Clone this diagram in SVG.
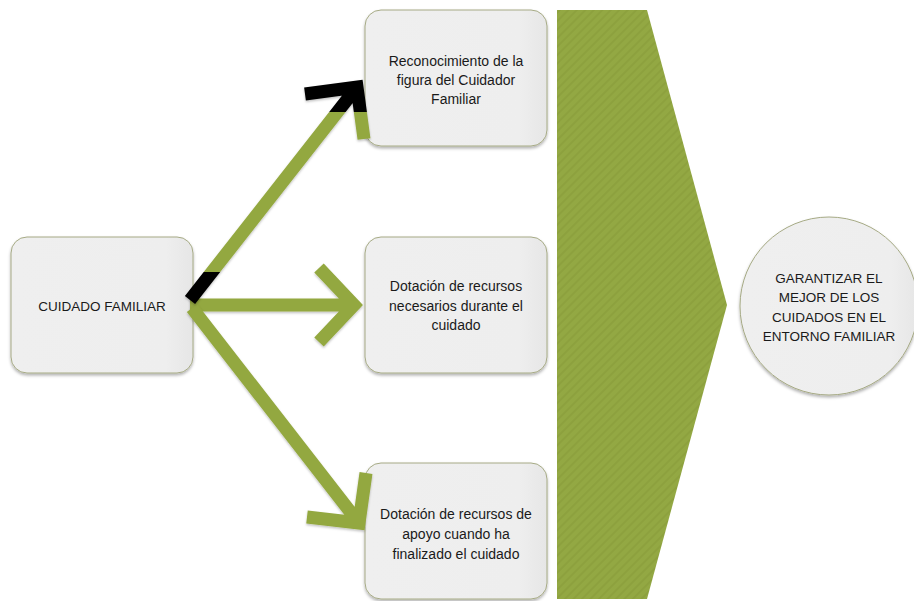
<svg xmlns="http://www.w3.org/2000/svg" width="914" height="601" viewBox="0 0 914 601">
<style>
.box{fill:url(#boxfill);stroke:#a6aa85;stroke-width:1;filter:url(#sh)}
.t{font-family:"Liberation Sans",Arial,sans-serif;font-size:14px;fill:#1a1a1a;text-anchor:middle}
.tc{font-family:"Liberation Sans",Arial,sans-serif;font-size:13.5px;fill:#1a1a1a;text-anchor:middle}
.arr{fill:none;stroke:#93a83f;stroke-width:13;stroke-linejoin:miter;stroke-miterlimit:10;stroke-linecap:butt;filter:url(#ash)}
</style>
<defs>
<linearGradient id="boxfill" x1="0" y1="0" x2="1" y2="0">
<stop offset="0" stop-color="#efefef"/><stop offset="0.85" stop-color="#eeeeee"/><stop offset="1" stop-color="#e6e6e6"/>
</linearGradient>
<filter id="sh" x="-10%" y="-10%" width="120%" height="125%">
<feDropShadow dx="0" dy="2" stdDeviation="1.8" flood-color="#000" flood-opacity="0.3"/>
</filter>
<filter id="ash" x="-10%" y="-10%" width="120%" height="120%">
<feDropShadow dx="0" dy="1.5" stdDeviation="1" flood-color="#000" flood-opacity="0.25"/>
</filter>
<linearGradient id="a1" gradientUnits="userSpaceOnUse" x1="0" y1="300" x2="0" y2="80">
<stop offset="0" stop-color="#000"/><stop offset="0.127" stop-color="#000"/>
<stop offset="0.127" stop-color="#93a83f"/><stop offset="0.855" stop-color="#93a83f"/>
<stop offset="0.855" stop-color="#000"/><stop offset="1" stop-color="#000"/>
</linearGradient>
<pattern id="stripes" patternUnits="userSpaceOnUse" width="6" height="6" patternTransform="rotate(45)">
<rect width="6" height="6" fill="#93a843"/>
<rect width="2" height="6" fill="#8da13e"/>
</pattern>
</defs>
<rect width="914" height="601" fill="#ffffff"/>

<g id="chevron">
<polygon points="557,10 647,10 727,305 647,599 557,599" fill="url(#stripes)"/>
</g>

<g id="node-cuidado">
<rect class="box" x="11" y="237" width="182" height="136" rx="16"/>
<text class="tc" x="102" y="311">CUIDADO FAMILIAR</text>
</g>

<g id="node-reconocimiento">
<rect class="box" x="365" y="10" width="182" height="136" rx="16"/>
<text class="t" x="456" y="66">Reconocimiento de la</text>
<text class="t" x="456" y="85">figura del Cuidador</text>
<text class="t" x="456" y="104">Familiar</text>
</g>

<g id="node-dotacion-durante">
<rect class="box" x="365" y="237" width="182" height="136" rx="16"/>
<text class="t" x="456" y="291">Dotación de recursos</text>
<text class="t" x="456" y="311">necesarios durante el</text>
<text class="t" x="456" y="330">cuidado</text>
</g>

<g id="node-dotacion-finalizado">
<rect class="box" x="365" y="463" width="182" height="136" rx="16"/>
<text class="t" x="456" y="519">Dotación de recursos de</text>
<text class="t" x="456" y="539">apoyo cuando ha</text>
<text class="t" x="456" y="559">finalizado el cuidado</text>
</g>

<g id="node-garantizar">
<circle cx="829" cy="306" r="89" fill="url(#boxfill)" stroke="#a6aa85" stroke-width="1" filter="url(#sh)"/>
<text class="tc" x="829" y="283">GARANTIZAR EL</text>
<text class="tc" x="829" y="302">MEJOR DE LOS</text>
<text class="tc" x="829" y="322">CUIDADOS EN EL</text>
<text class="tc" x="829" y="341">ENTORNO FAMILIAR</text>
</g>

<g id="connectors">
<path class="arr" d="M190,305 L354,305 M319,268 L354,305 L319,342"/>
<path class="arr" d="M192,308 L359,523 M366,473 L359,523 L307,517"/>
<path class="arr" style="stroke:url(#a1)" d="M190,300 L357,87 M305,94 L357,87 L364,139"/>
</g>
</svg>
